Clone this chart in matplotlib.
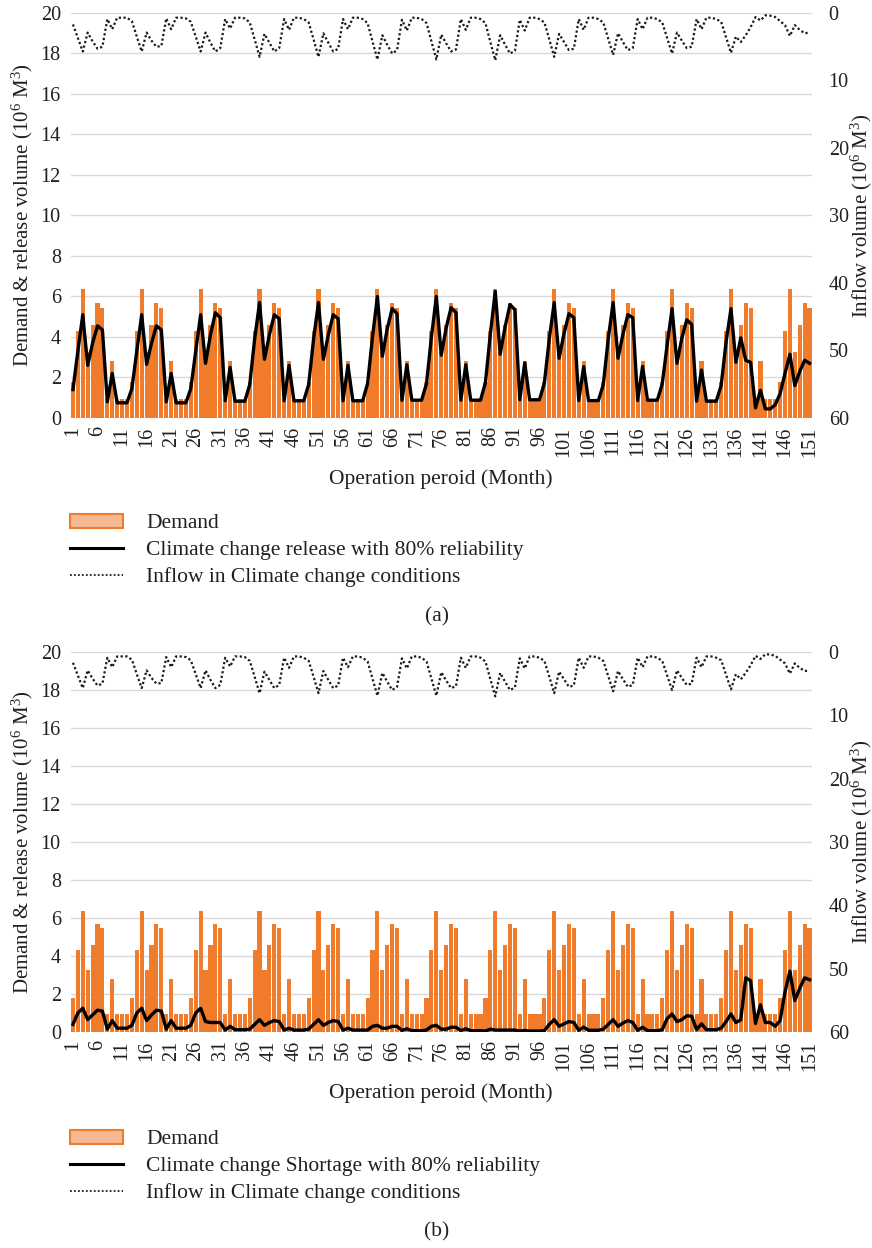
"""Reservoir operation under climate change: demand, release/shortage and inflow."""

import matplotlib.pyplot as plt
from matplotlib.lines import Line2D
from matplotlib.patches import Patch

# ── Data (10^6 m^3 per month) ────────────────────────────────────────

MONTHS = list(range(1, 152))

DEMAND = [
    1.8, 4.3, 6.35, 3.25, 4.6, 5.7, 5.45, 0.95, 2.8, 0.95, 0.95, 0.95,
    1.8, 4.3, 6.35, 3.25, 4.6, 5.7, 5.45, 0.95, 2.8, 0.95, 0.95, 0.95,
    1.8, 4.3, 6.35, 3.25, 4.6, 5.7, 5.45, 0.95, 2.8, 0.95, 0.95, 0.95,
    1.8, 4.3, 6.35, 3.25, 4.6, 5.7, 5.45, 0.95, 2.8, 0.95, 0.95, 0.95,
    1.8, 4.3, 6.35, 3.25, 4.6, 5.7, 5.45, 0.95, 2.8, 0.95, 0.95, 0.95,
    1.8, 4.3, 6.35, 3.25, 4.6, 5.7, 5.45, 0.95, 2.8, 0.95, 0.95, 0.95,
    1.8, 4.3, 6.35, 3.25, 4.6, 5.7, 5.45, 0.95, 2.8, 0.95, 0.95, 0.95,
    1.8, 4.3, 6.35, 3.25, 4.6, 5.7, 5.45, 0.95, 2.8, 0.95, 0.95, 0.95,
    1.8, 4.3, 6.35, 3.25, 4.6, 5.7, 5.45, 0.95, 2.8, 0.95, 0.95, 0.95,
    1.8, 4.3, 6.35, 3.25, 4.6, 5.7, 5.45, 0.95, 2.8, 0.95, 0.95, 0.95,
    1.8, 4.3, 6.35, 3.25, 4.6, 5.7, 5.45, 0.95, 2.8, 0.95, 0.95, 0.95,
    1.8, 4.3, 6.35, 3.25, 4.6, 5.7, 5.45, 0.95, 2.8, 0.95, 0.95, 0.95,
    1.8, 4.3, 6.35, 3.25, 4.6, 5.7, 5.45,
]

RELEASE_80 = [
    1.4, 3.3, 5.1, 2.6, 3.7, 4.55, 4.35, 0.8, 2.2, 0.75, 0.75, 0.75,
    1.45, 3.3, 5.1, 2.65, 3.7, 4.55, 4.35, 0.8, 2.2, 0.75, 0.75, 0.75,
    1.45, 3.3, 5.1, 2.7, 4.1, 5.2, 4.95, 0.85, 2.5, 0.83, 0.83, 0.83,
    1.65, 3.9, 5.7, 2.9, 4.1, 5.1, 4.9, 0.85, 2.6, 0.85, 0.85, 0.85,
    1.65, 3.9, 5.7, 2.9, 4.1, 5.1, 4.9, 0.85, 2.6, 0.85, 0.85, 0.85,
    1.7, 4.0, 6.0, 3.05, 4.4, 5.4, 5.15, 0.87, 2.63, 0.88, 0.88, 0.88,
    1.7, 4.0, 6.0, 3.1, 4.45, 5.45, 5.2, 0.88, 2.63, 0.88, 0.88, 0.88,
    1.75, 4.15, 6.25, 3.15, 4.5, 5.6, 5.35, 0.9, 2.72, 0.9, 0.9, 0.9,
    1.73, 3.9, 5.7, 2.95, 4.17, 5.15, 4.95, 0.86, 2.54, 0.86, 0.86, 0.86,
    1.65, 3.9, 5.7, 2.95, 4.13, 5.1, 4.95, 0.86, 2.55, 0.88, 0.88, 0.88,
    1.68, 3.6, 5.4, 2.7, 3.95, 4.85, 4.62, 0.83, 2.37, 0.83, 0.83, 0.83,
    1.6, 3.75, 5.4, 2.75, 3.96, 2.85, 2.75, 0.5, 1.37, 0.45, 0.45, 0.65,
    1.2, 2.2, 3.15, 1.6, 2.3, 2.85, 2.7,
]

SHORTAGE_80 = [
    0.4, 1.0, 1.25, 0.65, 0.9, 1.15, 1.1, 0.15, 0.6, 0.2, 0.2, 0.2,
    0.35, 1.0, 1.25, 0.6, 0.9, 1.15, 1.1, 0.15, 0.6, 0.2, 0.2, 0.2,
    0.35, 1.0, 1.25, 0.55, 0.5, 0.5, 0.5, 0.1, 0.3, 0.12, 0.12, 0.12,
    0.15, 0.4, 0.65, 0.35, 0.5, 0.6, 0.55, 0.1, 0.2, 0.1, 0.1, 0.1,
    0.15, 0.4, 0.65, 0.35, 0.5, 0.6, 0.55, 0.1, 0.2, 0.1, 0.1, 0.1,
    0.1, 0.3, 0.35, 0.2, 0.2, 0.3, 0.3, 0.08, 0.17, 0.07, 0.07, 0.07,
    0.1, 0.3, 0.35, 0.15, 0.15, 0.25, 0.25, 0.07, 0.17, 0.07, 0.07, 0.07,
    0.05, 0.15, 0.1, 0.1, 0.1, 0.1, 0.1, 0.05, 0.08, 0.05, 0.05, 0.05,
    0.07, 0.4, 0.65, 0.3, 0.43, 0.55, 0.5, 0.09, 0.26, 0.09, 0.09, 0.09,
    0.15, 0.4, 0.65, 0.3, 0.47, 0.6, 0.5, 0.09, 0.25, 0.07, 0.07, 0.07,
    0.12, 0.7, 0.95, 0.55, 0.65, 0.85, 0.83, 0.12, 0.43, 0.12, 0.12, 0.12,
    0.2, 0.55, 0.95, 0.5, 0.64, 2.85, 2.7, 0.45, 1.43, 0.5, 0.5, 0.3,
    0.6, 2.1, 3.2, 1.65, 2.3, 2.85, 2.75,
]

INFLOW_CC = [
    1.7, 3.7, 5.7, 2.9, 4.2, 5.3, 5.0, 0.9, 2.4, 0.7, 0.7, 0.7,
    1.2, 3.5, 5.7, 2.9, 4.1, 5.0, 4.9, 0.8, 2.4, 0.7, 0.7, 0.8,
    1.3, 3.5, 5.7, 2.9, 4.4, 5.7, 5.2, 0.9, 2.3, 0.7, 0.7, 0.8,
    1.4, 3.9, 6.5, 3.1, 4.4, 5.7, 5.2, 0.9, 2.5, 0.7, 0.7, 0.9,
    1.4, 3.9, 6.5, 3.0, 4.4, 5.7, 5.3, 0.9, 2.4, 0.7, 0.7, 0.9,
    1.5, 4.2, 6.9, 3.3, 4.7, 6.0, 5.5, 1.0, 2.6, 0.7, 0.7, 0.9,
    1.5, 4.2, 6.9, 3.2, 4.5, 5.7, 5.4, 0.9, 2.5, 0.7, 0.7, 0.9,
    1.5, 4.3, 7.0, 3.3, 4.7, 6.0, 5.6, 1.0, 2.6, 0.7, 0.7, 0.9,
    1.4, 3.9, 6.5, 3.1, 4.3, 5.5, 5.3, 0.9, 2.5, 0.7, 0.7, 0.9,
    1.4, 3.8, 6.2, 3.0, 4.3, 5.5, 5.2, 0.9, 2.4, 0.7, 0.7, 0.9,
    1.4, 3.7, 6.0, 2.9, 4.1, 5.2, 5.0, 0.9, 2.4, 0.7, 0.7, 0.9,
    1.3, 3.6, 5.9, 3.5, 4.3, 3.3, 2.1, 0.6, 1.1, 0.35, 0.4, 0.6,
    1.2, 1.8, 3.4, 1.8, 2.5, 3.0, 2.9,
]

X_TICKS = list(range(1, 152, 5))
LEFT_TICKS = list(range(0, 21, 2))
RIGHT_TICKS = list(range(0, 61, 10))

# ── Style ────────────────────────────────────────────────────────────

ORANGE = "#F07B2A"
ORANGE_LIGHT = "#F5B995"
GRID = "#D9D9D9"
TEXT = "#231F20"
FS_TICK = 14.5
FS_LABEL = 15.5
FS_YLABEL = 15

plt.rcParams["font.family"] = ["Liberation Serif", "DejaVu Serif"]
plt.rcParams["mathtext.fontset"] = "custom"
plt.rcParams["mathtext.rm"] = "Liberation Serif"
plt.rcParams["mathtext.default"] = "regular"

W, H = 872, 1248


def _panel(fig, top_px, bottom_px, line, line_label, legend_top_px, tag, tag_px):
    """Draws one panel: demand bars, black line and inverted inflow axis."""
    left_px, right_px = 70.5, 812
    ax = fig.add_axes([left_px / W, 1 - bottom_px / H,
                       (right_px - left_px) / W, (bottom_px - top_px) / H])
    ax.bar(MONTHS, DEMAND, width=0.84, color=ORANGE, zorder=2, label="Demand")
    ax.plot(MONTHS, line, color="black", lw=2.4, zorder=3, label=line_label)
    ax.set_xlim(0.5, 151.5)
    ax.set_ylim(0, 20)
    ax.set_yticks(LEFT_TICKS)
    ax.set_xticks(X_TICKS)
    ax.set_xticklabels([str(t) for t in X_TICKS], rotation=90)
    ax.yaxis.grid(True, color=GRID, lw=1.0, zorder=0)
    ax.set_axisbelow(True)
    ax.tick_params(axis="both", length=0, labelsize=FS_TICK, colors=TEXT)
    ax.tick_params(axis="y", pad=7)
    ax.tick_params(axis="x", pad=6)
    for s in ax.spines.values():
        s.set_visible(False)
    ax.set_xlabel("Operation peroid (Month)", fontsize=FS_LABEL, color=TEXT, labelpad=9)
    ax.set_ylabel("Demand & release volume (10$^6$ M$^3$)", fontsize=FS_YLABEL, color=TEXT)
    ax.yaxis.set_label_coords(-0.048, 0.5)

    ax2 = ax.twinx()
    ax2.plot(MONTHS, INFLOW_CC, color="#1a1a1a", lw=1.6, linestyle=(0, (1, 1.1)),
             zorder=4, label="Inflow in Climate change conditions")
    ax2.set_ylim(60, 0)
    ax2.set_yticks(RIGHT_TICKS)
    ax2.tick_params(axis="y", length=0, labelsize=FS_TICK, colors=TEXT, pad=12)
    for s in ax2.spines.values():
        s.set_visible(False)
    ax2.set_ylabel("Inflow volume (10$^6$ M$^3$)", fontsize=FS_YLABEL, color=TEXT)
    ax2.yaxis.set_label_coords(1.049, 0.5)

    handles = [
        Patch(facecolor=ORANGE_LIGHT, edgecolor=ORANGE, lw=1.5),
        Line2D([], [], color="black", lw=2.2),
        Line2D([], [], color="#1a1a1a", lw=1.3, linestyle=(0, (1, 1.2))),
    ]
    labels = ["Demand", line_label, "Inflow in Climate change conditions"]
    fig.legend(handles, labels, loc="upper left",
               bbox_to_anchor=(70 / W, 1 - legend_top_px / H),
               frameon=False, fontsize=FS_LABEL, handlelength=2.45, handleheight=0.6,
               handletextpad=1.1, labelspacing=0.33, borderpad=0, borderaxespad=0,
               labelcolor=TEXT)
    fig.text(437 / W, 1 - tag_px / H, tag, ha="center", va="center",
             fontsize=FS_LABEL, color=TEXT)
    return ax


fig = plt.figure(figsize=(W / 100, H / 100), dpi=100)
_panel(fig, 13, 418, RELEASE_80, "Climate change release with 80% reliability",
       514, "(a)", 617)
_panel(fig, 652, 1032, SHORTAGE_80, "Climate change Shortage with 80% reliability",
       1130, "(b)", 1232)
fig.savefig("out.png", dpi=100, facecolor="white")
plt.close(fig)
